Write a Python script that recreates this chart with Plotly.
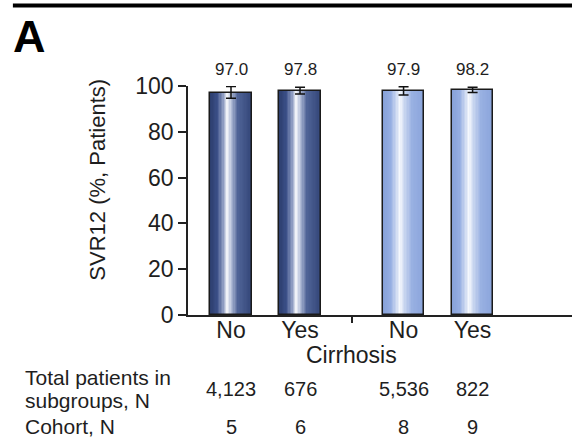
import plotly.graph_objects as go

# ---- data ----
categories = ["No", "Yes", "No", "Yes"]
positions = [0.0, 1.0, 2.5, 3.5]
svr12 = [97.0, 97.8, 97.9, 98.2]
err_plus = [2.8, 1.6, 1.8, 1.2]
err_minus = [2.4, 1.3, 1.8, 1.0]
total_patients = ["4,123", "676", "5,536", "822"]
cohort_n = ["5", "6", "8", "9"]
group_of_bar = [0, 0, 1, 1]
y_ticks = [0, 20, 40, 60, 80, 100]
row_label_total = ["Total patients in", "subgroups, N"]
row_label_cohort = "Cohort, N"
x_title = "Cirrhosis"
y_title = "SVR12 (%, Patients)"

FONT = "Liberation Sans, Arial, sans-serif"
BAR_W = 0.6
N_SLICES = 30

def hex2rgb(h):
    h = h.lstrip("#")
    return tuple(int(h[i:i + 2], 16) for i in (0, 2, 4))

def grad(stops, t):
    for (t0, c0), (t1, c1) in zip(stops, stops[1:]):
        if t0 <= t <= t1:
            f = (t - t0) / (t1 - t0) if t1 > t0 else 0
            a, b = hex2rgb(c0), hex2rgb(c1)
            return "rgb(%d,%d,%d)" % tuple(round(a[i] + (b[i] - a[i]) * f) for i in range(3))
    return stops[-1][1]

dark_stops = [(0, "#2c3d6c"), (0.18, "#3b4f88"), (0.32, "#8f9dc2"), (0.42, "#f3f5fa"),
              (0.52, "#aeb9d5"), (0.68, "#4f6396"), (1.0, "#34477a")]
light_stops = [(0, "#86a0d8"), (0.2, "#95aee2"), (0.33, "#cbd7f0"), (0.42, "#f7f9fd"),
               (0.54, "#c8d5ef"), (0.72, "#98b0e2"), (1.0, "#8aa4db")]
group_stops = [dark_stops, light_stops]

fig = go.Figure()

for g, stops in enumerate(group_stops):
    xs = [p for p, gg in zip(positions, group_of_bar) if gg == g]
    ys = [v for v, gg in zip(svr12, group_of_bar) if gg == g]
    for k in range(N_SLICES):
        t = (k + 0.5) / N_SLICES
        fig.add_trace(go.Bar(
            x=xs, y=ys, width=BAR_W / N_SLICES * 1.05,
            offset=-BAR_W / 2 + k * BAR_W / N_SLICES,
            marker=dict(color=grad(stops, t), line=dict(width=0)),
            showlegend=False, hoverinfo="skip"))

# outline + error bars
fig.add_trace(go.Bar(
    x=positions, y=svr12, width=BAR_W,
    marker=dict(color="rgba(0,0,0,0)", line=dict(color="#1a1a1a", width=1.5)),
    error_y=dict(type="data", array=err_plus, arrayminus=err_minus,
                 color="#111", thickness=1.5, width=5),
    showlegend=False))

TXT = "#1e1e1e"

# value labels above plot
for x, v in zip(positions, svr12):
    fig.add_annotation(x=x, y=1.07, xref="x", yref="paper", yanchor="middle",
                       text=f"{v:.1f}", showarrow=False,
                       font=dict(family=FONT, size=17, color=TXT))

# bottom table
for x, tp, c in zip(positions, total_patients, cohort_n):
    fig.add_annotation(x=x, y=-0.323, xref="x", yref="paper", yanchor="middle",
                       text=tp, showarrow=False, font=dict(family=FONT, size=20, color=TXT))
    fig.add_annotation(x=x, y=-0.489, xref="x", yref="paper", yanchor="middle",
                       text=c, showarrow=False, font=dict(family=FONT, size=20, color=TXT))

for line_txt, yy in zip(row_label_total, [-0.275, -0.372]):
    fig.add_annotation(x=-0.43, y=yy, xref="paper", yref="paper", xanchor="left",
                       yanchor="middle", align="left", text=line_txt,
                       showarrow=False, font=dict(family=FONT, size=21, color=TXT))
fig.add_annotation(x=-0.43, y=-0.489, xref="paper", yref="paper", xanchor="left",
                   yanchor="middle", text=row_label_cohort, showarrow=False,
                   font=dict(family=FONT, size=21, color=TXT))

fig.add_annotation(x=(positions[1] + positions[2]) / 2, y=-0.175, xref="x", yref="paper",
                   yanchor="middle", text=x_title, showarrow=False,
                   font=dict(family=FONT, size=23, color=TXT))

fig.add_annotation(x=-0.235, y=0.59, xref="paper", yref="paper", textangle=-90,
                   xanchor="center", yanchor="middle",
                   text=y_title, showarrow=False,
                   font=dict(family=FONT, size=22, color=TXT))

fig.add_annotation(x=-0.46, y=1.214, xref="paper", yref="paper", xanchor="left",
                   yanchor="middle", text="<b>A</b>", showarrow=False,
                   font=dict(family=FONT, size=45, color="#000"))

fig.add_shape(type="line", xref="paper", yref="paper", x0=-0.456, x1=1.0,
              y0=1.3515, y1=1.3515, line=dict(color="#000", width=4))

fig.update_layout(
    width=572, height=439,
    margin=dict(l=188, r=0, t=86, b=124),
    paper_bgcolor="white", plot_bgcolor="white",
    barmode="overlay", bargap=0,
    font=dict(family=FONT, color=TXT),
    xaxis=dict(range=[-0.623, 4.94], tickvals=positions, ticktext=categories,
               ticks="outside", ticklen=0, tickfont=dict(size=23, color=TXT),
               showline=True, linecolor="#222", linewidth=1.5,
               showgrid=False, zeroline=False, ticklabelstandoff=-6,
               minor=dict(tickvals=[(positions[1] + positions[2]) / 2], ticks="outside",
                          ticklen=6, tickcolor="#222", tickwidth=1.5)),
    yaxis=dict(range=[0, 100], tickvals=y_ticks, ticks="outside", ticklen=8,
               tickwidth=1.5, tickcolor="#222", tickfont=dict(size=23, color=TXT),
               showline=True, linecolor="#222", linewidth=1.5,
               showgrid=False, zeroline=False),
)

fig.write_html("out.html", config={"displayModeBar": False},
               post_script="document.body.style.margin='0';")
